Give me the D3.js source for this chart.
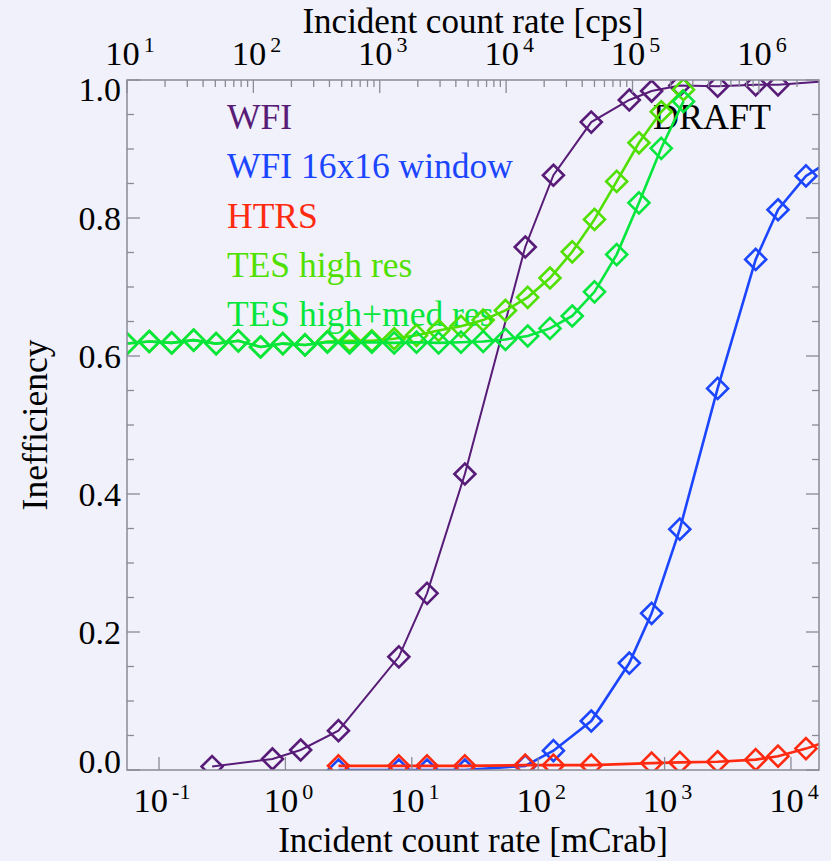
<!DOCTYPE html>
<html>
<head>
<meta charset="utf-8">
<script src="https://cdn.jsdelivr.net/npm/d3@7"></script>
<style>
  body { margin: 0; background: #f0f1fa; }
</style>
</head>
<body>
<div id="chart"></div>
<script>
// incident rates in mCrab, inefficiency 0..1

const wfiRate  = [0.263, 0.79, 1.32, 2.63, 7.9, 13.2, 26.3, 79, 132, 263, 526, 790, 1320, 2630, 5260, 7900, 26300];
const wfiIneff = [0.005, 0.016, 0.029, 0.057, 0.164, 0.256, 0.429, 0.758, 0.862, 0.939, 0.971, 0.984, 0.992, 0.991, 0.993, 0.993, 1.0];

const windowRate  = [2.63, 7.9, 13.2, 26.3, 79, 132, 263, 526, 790, 1320, 2630, 5260, 7900, 13150, 26300];
const windowIneff = [0, 0, 0, 0, 0.006, 0.028, 0.071, 0.155, 0.227, 0.349, 0.553, 0.740, 0.812, 0.861, 0.895];

const htrsRate  = [2.63, 7.9, 13.2, 26.3, 79, 132, 263, 790, 1320, 2630, 5260, 7900, 13150, 26300];
const htrsIneff = [0.006, 0.006, 0.006, 0.006, 0.007, 0.007, 0.007, 0.010, 0.011, 0.012, 0.015, 0.020, 0.031, 0.050];

const tesRate = [0.0558, 0.0837, 0.126, 0.188, 0.283, 0.424, 0.636, 0.954, 1.43, 2.15, 3.22, 4.83, 7.25,
                 10.9, 16.3, 24.5, 36.7, 55.1, 82.6, 124, 186, 279, 418, 627, 941, 1412];
const tesHighIneff = [0.618, 0.621, 0.619, 0.623, 0.618, 0.622, 0.613, 0.618, 0.616, 0.621, 0.622, 0.622, 0.625,
                      0.630, 0.637, 0.643, 0.652, 0.666, 0.685, 0.713, 0.751, 0.798, 0.853, 0.909, 0.954, 0.986];
const tesHighMedIneff = [0.618, 0.621, 0.619, 0.623, 0.618, 0.622, 0.613, 0.618, 0.616, 0.620, 0.619, 0.620, 0.619,
                         0.620, 0.619, 0.620, 0.621, 0.624, 0.629, 0.640, 0.658, 0.693, 0.747, 0.822, 0.901, 0.969];

const seriesNames  = ["WFI", "WFI 16x16 window", "HTRS", "TES high res", "TES high+med res"];
const seriesColors = ["#581c78", "#1b45ff", "#ff2a10", "#50e000", "#05e63c"];

const xDomain   = [0.0558, 16670];   // mCrab
const topDomain = [10, 2.99e6];      // cps
const bottomTicks = [0.1, 1, 10, 100, 1000, 10000];
const topTicks    = [10, 100, 1000, 10000, 100000, 1000000];
const yTicks      = [0, 0.2, 0.4, 0.6, 0.8, 1.0];

const series = [
  {rate: wfiRate, ineff: wfiIneff, width: 2},
  {rate: windowRate, ineff: windowIneff, width: 2.6},
  {rate: htrsRate, ineff: htrsIneff, width: 2.6},
  {rate: tesRate, ineff: tesHighIneff, width: 2.6},
  {rate: tesRate, ineff: tesHighMedIneff, width: 2.6}
];

const width = 831, height = 861;
const L = 127, R = 819, T = 80, B = 770;
const axisColor = "#8a8a98";
const serif = "'Liberation Serif', 'Times New Roman', Times, 'DejaVu Serif', serif";

const svg = d3.select("#chart")
  .append("svg")
  .attr("width", width)
  .attr("height", height)
  .attr("font-family", serif)
  .style("font-family", serif);

svg.append("rect").attr("width", width).attr("height", height).attr("fill", "#f0f1fa");

const x = d3.scaleLog().domain(xDomain).range([L, R]);
const xTop = d3.scaleLog().domain(topDomain).range([L, R]);
const y = d3.scaleLinear().domain([0, 1]).range([B, T]);

// clip for the data
svg.append("clipPath").attr("id", "plotClip")
  .append("rect").attr("x", L).attr("y", T).attr("width", R - L).attr("height", B - T);

// legend text + DRAFT
svg.selectAll("text.legend")
  .data(seriesNames)
  .join("text")
  .attr("class", "legend")
  .attr("x", 227)
  .attr("y", (d, i) => 129 + i * 49.3)
  .attr("fill", (d, i) => seriesColors[i])
  .style("font-size", "35.5px")
  .text(d => d);

svg.append("text")
  .attr("x", 653).attr("y", 129)
  .attr("fill", "#000")
  .style("font-size", "36px")
  .text("DRAFT");

// data
const line = d3.line()
  .x(d => x(d[0]))
  .y(d => y(d[1]));

const plot = svg.append("g").attr("clip-path", "url(#plotClip)");

series.forEach((s, i) => {
  const pts = s.rate.map((r, j) => [r, s.ineff[j]]);
  plot.append("path")
    .datum(pts)
    .attr("d", line)
    .attr("fill", "none")
    .attr("stroke", seriesColors[i])
    .attr("stroke-width", s.width);

  plot.selectAll(null)
    .data(pts)
    .join("path")
    .attr("d", "M0,-10.5L10.5,0L0,10.5L-10.5,0Z")
    .attr("transform", d => `translate(${x(d[0])},${y(d[1])})`)
    .attr("fill", "none")
    .attr("stroke", seriesColors[i])
    .attr("stroke-width", 2.6);
});

// frame
svg.append("rect")
  .attr("x", L).attr("y", T).attr("width", R - L).attr("height", B - T)
  .attr("fill", "none").attr("stroke", axisColor).attr("stroke-width", 1.5);

const ticks = svg.append("g").attr("stroke", axisColor).attr("stroke-width", 1.3);

// bottom axis: major ticks only
ticks.selectAll(null).data(bottomTicks).join("line")
  .attr("x1", d => x(d)).attr("x2", d => x(d))
  .attr("y1", B).attr("y2", B - 13);

// top axis: major + minor
const topMinor = [];
topTicks.forEach(t => { for (let m = 2; m < 10; m++) if (t * m < topDomain[1]) topMinor.push(t * m); });
ticks.selectAll(null).data(topTicks).join("line")
  .attr("x1", d => xTop(d)).attr("x2", d => xTop(d))
  .attr("y1", T).attr("y2", T + 13);
ticks.selectAll(null).data(topMinor).join("line")
  .attr("x1", d => xTop(d)).attr("x2", d => xTop(d))
  .attr("y1", T).attr("y2", T + 7);

// left/right axes: major every 0.2, minor every 0.05
const yMinor = d3.range(0, 21).map(i => i * 0.05);
[L, R].forEach(ax => {
  const dir = ax === L ? 1 : -1;
  ticks.selectAll(null).data(yMinor).join("line")
    .attr("x1", ax).attr("x2", d => ax + dir * (Math.abs(d * 5 - Math.round(d * 5)) < 1e-6 ? 13 : 7))
    .attr("y1", d => y(d)).attr("y2", d => y(d));
});

// tick labels
const expLabel = (sel, exps) => {
  sel.append("tspan").text("10");
  sel.append("tspan")
    .attr("dx", 4).attr("dy", -13)
    .style("font-size", "22px")
    .text(d => exps(d));
};

svg.selectAll("text.xb")
  .data(bottomTicks)
  .join("text")
  .attr("class", "xb")
  .attr("x", d => x(d) + 3)
  .attr("y", 812)
  .attr("text-anchor", "middle")
  .style("font-size", "34.5px")
  .call(expLabel, d => String(Math.round(Math.log10(d))));

svg.selectAll("text.xt")
  .data(topTicks)
  .join("text")
  .attr("class", "xt")
  .attr("x", d => xTop(d) + 3)
  .attr("y", 65)
  .attr("text-anchor", "middle")
  .style("font-size", "34.5px")
  .call(expLabel, d => String(Math.round(Math.log10(d))));

svg.selectAll("text.yl")
  .data(yTicks)
  .join("text")
  .attr("class", "yl")
  .attr("x", 121)
  .attr("y", d => Math.min(761, Math.max(89, y(d))))
  .attr("dy", "0.35em")
  .attr("text-anchor", "end")
  .style("font-size", "34px")
  .text(d => d3.format(".1f")(d));

// axis titles
svg.append("text")
  .attr("x", (L + R) / 2).attr("y", 852)
  .attr("text-anchor", "middle")
  .style("font-size", "35px")
  .text("Incident count rate [mCrab]");

svg.append("text")
  .attr("x", (L + R) / 2).attr("y", 33)
  .attr("text-anchor", "middle")
  .style("font-size", "35px")
  .text("Incident count rate [cps]");

svg.append("text")
  .attr("transform", `translate(47, ${(T + B) / 2}) rotate(-90)`)
  .attr("text-anchor", "middle")
  .style("font-size", "35.5px")
  .text("Inefficiency");
</script>
</body>
</html>
